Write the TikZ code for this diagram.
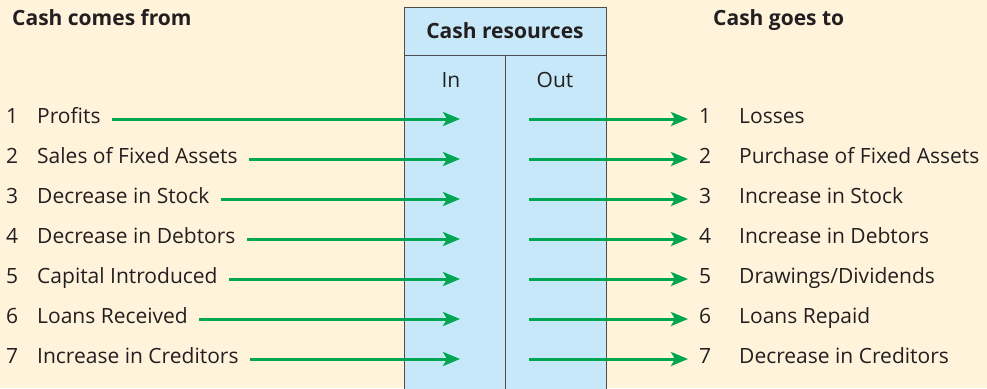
\documentclass[tikz,border=0pt]{standalone}
\usepackage{fontspec}
\setmainfont{Open Sans}
\usetikzlibrary{arrows.meta,calc}
\definecolor{bgc}{HTML}{FFF3DC}
\definecolor{boxc}{HTML}{C6E8F8}
\definecolor{arrc}{HTML}{00A651}
\definecolor{txtc}{HTML}{231F20}
\tikzset{
  lbl/.style={anchor=base west,inner sep=0pt,text=txtc,font=\fontsize{21}{24}\selectfont},
  hdr/.style={anchor=base west,inner sep=0pt,text=txtc,font=\fontsize{21}{24}\selectfont\bfseries},
  ctr/.style={anchor=base,inner sep=0pt,text=txtc,font=\fontsize{21}{24}\selectfont},
  arr/.style={draw=arrc,line width=3pt,-{Stealth[length=17pt,width=14pt,inset=4pt]}},
  boxline/.style={draw=txtc!80,line width=0.9pt}
}
\begin{document}
\begin{tikzpicture}[x=1pt,y=-1pt]
\useasboundingbox[fill=bgc] (0,0) rectangle (987,388);
% cash resources box
\path[fill=boxc] (404,7) rectangle (606,400);
\draw[boxline] (404,400) -- (404,7) -- (606,7) -- (606,400);
\draw[boxline] (404,55) -- (606,55);
\draw[boxline] (505,55) -- (505,400);
\node[ctr,font=\fontsize{21}{24}\selectfont\bfseries] (cr) at (505,38) {Cash resources};
\node[ctr] (in) at (451,87) {In};
\node[ctr] (out) at (555,87) {Out};
% headers
\node[hdr] (from) at (12,25) {Cash comes from};
\node[hdr] (to) at (713,25) {Cash goes to};
% rows
\foreach \i/\l/\r in {1/Profits/Losses,
  2/Sales of Fixed Assets/Purchase of Fixed Assets,
  3/Decrease in Stock/Increase in Stock,
  4/Decrease in Debtors/Increase in Debtors,
  5/Capital Introduced/Drawings\slash Dividends,
  6/Loans Received/Loans Repaid,
  7/Increase in Creditors/Decrease in Creditors}{
  \pgfmathsetmacro{\yy}{119+40*(\i-1)}
  \coordinate (row\i) at (0,\yy);
  \node[lbl] (ln\i) at (6,\yy+4) {\i};
  \node[lbl] (lt\i) at (37,\yy+4) {\l};
  \node[lbl] (rn\i) at (699,\yy+4) {\i};
  \node[lbl] (rt\i) at (739,\yy+4) {\r};
  \coordinate (lstart\i) at ($(lt\i.east |- row\i)+(11,0)$);
  \coordinate (ltip\i) at (460,\yy);
  \coordinate (rstart\i) at (529,\yy);
  \coordinate (rtip\i) at (688,\yy);
  \draw[arr] (lstart\i) -- (ltip\i);
  \draw[arr] (rstart\i) -- (rtip\i);
}
\end{tikzpicture}
\end{document}
